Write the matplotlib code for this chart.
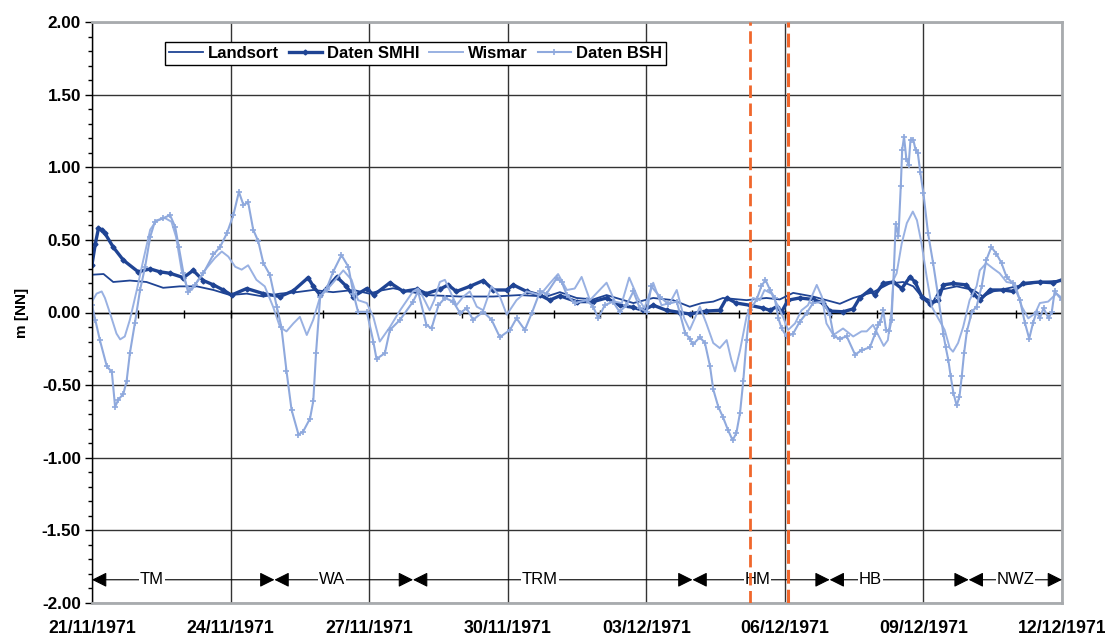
import numpy as np
import matplotlib
matplotlib.use("Agg")
import matplotlib.pyplot as plt
import matplotlib.dates as mdates
from matplotlib.ticker import MultipleLocator, FormatStrFormatter, FixedLocator

plt.rcParams['font.family'] = ['Liberation Sans', 'DejaVu Sans']
plt.rcParams['axes.unicode_minus'] = False

# time axis: days since 21/11/1971 00:00
start = np.datetime64('1971-11-21T00:00')
n_days = 21

# Landsort (model)
landsort_t = [0, 0.25, 0.46, 0.82, 1.18, 1.54, 1.9, 2.27, 2.63, 2.99, 3.35, 3.71, 4.07, 4.43, 4.79,
              5.22, 5.66, 6.0, 6.23, 6.52, 7.24, 7.97, 8.69, 9.26, 9.84, 10.13, 10.49, 10.85, 11.14,
              11.72, 12.15, 12.58, 12.94, 13.2, 13.45, 13.66, 14.17, 14.6, 14.89, 15.18, 15.61, 16.19,
              16.48, 16.91, 17.27, 17.56, 17.78, 17.96, 18.21, 18.35, 18.72, 19.08, 19.29, 19.51,
              19.8, 20.16, 20.52, 21.0]
landsort_v = [0.26, 0.265, 0.21, 0.22, 0.21, 0.17, 0.18, 0.18, 0.155, 0.12, 0.13, 0.11, 0.13, 0.14, 0.155,
              0.14, 0.155, 0.13, 0.15, 0.167, 0.12, 0.11, 0.11, 0.12, 0.11, 0.14, 0.1, 0.09, 0.12,
              0.065, 0.1, 0.085, 0.04, 0.065, 0.075, 0.1, 0.085, 0.1, 0.09, 0.135, 0.11, 0.06,
              0.1, 0.14, 0.2, 0.21, 0.18, 0.11, 0.075, 0.155, 0.18, 0.155, 0.11, 0.145,
              0.165, 0.19, 0.21, 0.22]

# SMHI gauge data
smhi_t = [0, 0.07, 0.14, 0.21, 0.28, 0.46, 0.68, 1.0, 1.26, 1.47, 1.69, 1.98, 2.19, 2.41, 2.63, 2.84,
          3.02, 3.35, 3.71, 4.07, 4.36, 4.68, 4.79, 4.94, 5.3, 5.51, 5.66, 5.95, 6.1, 6.45, 6.74,
          7.03, 7.24, 7.53, 7.71, 7.89, 8.18, 8.47, 8.69, 8.98, 9.12, 9.41, 9.7, 9.91, 10.13, 10.49,
          10.85, 11.14, 11.42, 11.72, 11.93, 12.15, 12.44, 12.73, 12.94, 13.3, 13.59, 13.74, 13.95,
          14.24, 14.53, 14.68, 14.82, 14.93, 15.07, 15.32, 15.61, 15.83, 15.97, 16.26, 16.48, 16.62,
          16.84, 16.95, 17.13, 17.35, 17.53, 17.71, 17.82, 17.96, 18.14, 18.32, 18.43, 18.64, 18.93,
          19.08, 19.22, 19.44, 19.73, 19.94, 20.16, 20.52, 20.81, 21.0]
smhi_v = [0.33, 0.47, 0.58, 0.57, 0.545, 0.45, 0.36, 0.28, 0.30, 0.28, 0.27, 0.24, 0.29, 0.22, 0.19, 0.155,
          0.12, 0.165, 0.13, 0.11, 0.15, 0.24, 0.18, 0.12, 0.245, 0.18, 0.11, 0.165, 0.12, 0.205, 0.145,
          0.16, 0.13, 0.16, 0.19, 0.145, 0.18, 0.22, 0.155, 0.155, 0.19, 0.145, 0.12, 0.085, 0.115, 0.075,
          0.075, 0.1, 0.05, 0.035, 0.015, 0.05, 0.015, 0.0, -0.01, 0.01, 0.015, 0.1, 0.065,
          0.05, 0.03, 0.015, 0.04, 0.005, 0.085, 0.1, 0.09, 0.065, 0.01, 0.005, 0.025, 0.1,
          0.155, 0.12, 0.2, 0.21, 0.165, 0.245, 0.21, 0.11, 0.06, 0.085, 0.19, 0.2, 0.19,
          0.13, 0.085, 0.155, 0.155, 0.145, 0.2, 0.21, 0.205, 0.225]

# Wismar (model)
wismar_t = [0, 0.1, 0.21, 0.28, 0.39, 0.53, 0.61, 0.71, 0.82, 0.97, 1.11, 1.26, 1.4, 1.58, 1.72, 1.82,
            1.94, 2.05, 2.16, 2.3, 2.48, 2.66, 2.81, 2.95, 3.1, 3.24, 3.38, 3.56, 3.74, 3.92, 4.07,
            4.21, 4.36, 4.5, 4.65, 4.79, 4.94, 5.15, 5.44, 5.62, 5.76, 5.95, 6.09, 6.23, 6.45, 6.67,
            6.95, 7.06, 7.16, 7.31, 7.41, 7.53, 7.64, 7.79, 7.89, 8.04, 8.18, 8.33, 8.47, 8.65, 8.83,
            8.98, 9.19, 9.41, 9.7, 9.91, 10.09, 10.28, 10.45, 10.6, 10.78, 10.96, 11.14, 11.32, 11.47,
            11.63, 11.82, 11.96, 12.15, 12.33, 12.51, 12.66, 12.82, 12.94, 13.16, 13.3, 13.45, 13.59,
            13.74, 13.84, 13.92, 14.03, 14.17, 14.31, 14.46, 14.56, 14.71, 14.86, 14.96, 15.07, 15.22,
            15.36, 15.5, 15.69, 15.8, 15.9, 16.05, 16.26, 16.48, 16.66, 16.77, 16.91, 17.06, 17.14,
            17.23, 17.31, 17.35, 17.42, 17.53, 17.64, 17.77, 17.86, 17.96, 18.07, 18.18, 18.46, 18.57,
            18.64, 18.75, 18.86, 19.0, 19.15, 19.22, 19.36, 19.5, 19.65, 19.8, 19.98, 20.13, 20.27,
            20.42, 20.52, 20.7, 20.88, 21.0]
wismar_v = [0.075, 0.13, 0.145, 0.1, -0.005, -0.145, -0.185, -0.165, -0.05, 0.155, 0.36, 0.57, 0.635, 0.65, 0.625, 0.52,
            0.29, 0.18, 0.155, 0.225, 0.305, 0.375, 0.42, 0.385, 0.315, 0.295, 0.325, 0.225, 0.18, 0.04, -0.1,
            -0.13, -0.075, -0.03, -0.155, -0.05, 0.11, 0.18, 0.29, 0.225, 0.085, 0.065, -0.03, -0.2, -0.1, 0.015,
            0.145, 0.165, 0.11, 0.015, 0.085, 0.21, 0.225, 0.12, 0.05, 0.11, 0.145, 0.04, 0.015, 0.18, 0.11,
            -0.015, 0.085, 0.145, 0.12, 0.2, 0.265, 0.155, 0.165, 0.245, 0.085, 0.145, 0.205, 0.075, 0.065,
            0.24, 0.1, 0.03, 0.205, 0.05, 0.065, 0.155, -0.04, -0.12, 0.04, -0.075, -0.21, -0.245,
            -0.19, -0.325, -0.405, -0.26, -0.03, 0.1, 0.085, 0.155, 0.13, 0.04, -0.03, -0.12, -0.075,
            0.015, 0.05, 0.19, 0.11, -0.075, -0.155, -0.11, -0.165, -0.13, -0.13, -0.085, -0.18, -0.23,
            -0.19, 0.015, 0.225, 0.27, 0.475, 0.615, 0.695, 0.635, 0.475, 0.245, 0.04, -0.12, -0.245,
            -0.27, -0.21, -0.1, 0.085, 0.18, 0.29, 0.34, 0.305, 0.27, 0.21, 0.2, 0.04, -0.04,
            -0.005, 0.065, 0.075, 0.13, 0.1]

# BSH gauge data
bsh_t = [0, 0.07, 0.17, 0.32, 0.43, 0.5, 0.57, 0.68, 0.75, 0.82, 0.93, 1.04, 1.15, 1.26, 1.36, 1.54,
         1.69, 1.8, 1.88, 1.98, 2.08, 2.23, 2.41, 2.63, 2.77, 2.92, 3.06, 3.18, 3.28, 3.38, 3.49, 3.6,
         3.71, 3.85, 4.0, 4.1, 4.21, 4.32, 4.47, 4.57, 4.72, 4.79, 4.85, 4.94, 5.08, 5.22, 5.4, 5.55,
         5.66, 5.76, 5.95, 6.09, 6.16, 6.34, 6.45, 6.67, 6.95, 7.06, 7.24, 7.35, 7.5, 7.64, 7.82, 7.97,
         8.11, 8.25, 8.47, 8.65, 8.83, 9.05, 9.19, 9.37, 9.52, 9.7, 9.84, 10.06, 10.17, 10.28, 10.45,
         10.71, 10.85, 10.96, 11.1, 11.28, 11.42, 11.57, 11.72, 11.86, 12.01, 12.11, 12.29, 12.47,
         12.66, 12.84, 12.94, 13.01, 13.16, 13.27, 13.38, 13.45, 13.56, 13.66, 13.77, 13.87, 13.95,
         14.03, 14.1, 14.17, 14.24, 14.39, 14.49, 14.58, 14.68, 14.78, 14.86, 14.93, 15.04, 15.18,
         15.32, 15.47, 15.61, 15.83, 15.97, 16.06, 16.19, 16.34, 16.52, 16.66, 16.84, 16.95, 17.02,
         17.07, 17.13, 17.19, 17.26, 17.31, 17.36, 17.4, 17.46, 17.51, 17.54, 17.58, 17.63, 17.68,
         17.72, 17.78, 17.83, 17.88, 17.93, 18.0, 18.1, 18.21, 18.32, 18.43, 18.48, 18.54, 18.59,
         18.65, 18.72, 18.78, 18.83, 18.88, 18.94, 19.05, 19.15, 19.26, 19.36, 19.47, 19.58, 19.69,
         19.8, 19.94, 20.09, 20.2, 20.29, 20.37, 20.45, 20.52, 20.6, 20.71, 20.78, 20.84, 21.0]
bsh_v = [0.05, -0.05, -0.19, -0.37, -0.41, -0.65, -0.6, -0.56, -0.47, -0.28, -0.07, 0.155, 0.315, 0.52, 0.625, 0.65,
         0.67, 0.59, 0.45, 0.27, 0.14, 0.19, 0.27, 0.40, 0.45, 0.545, 0.67, 0.83, 0.74, 0.76, 0.57, 0.49,
         0.34, 0.26, 0.04, -0.10, -0.40, -0.67, -0.84, -0.82, -0.73, -0.61, -0.28, 0.11, 0.165, 0.28, 0.395, 0.315,
         0.13, 0.005, 0.005, -0.2, -0.32, -0.28, -0.12, -0.05, 0.075, 0.145, -0.085, -0.11, 0.05, 0.1, 0.075, -0.005,
         0.03, -0.05, 0.005, -0.05, -0.17, -0.12, -0.04, -0.12, -0.005, 0.145, 0.13, 0.235, 0.21, 0.12, 0.065,
         0.085, 0.04, -0.04, 0.05, 0.075, 0.005, 0.05, 0.145, 0.03, 0.005, 0.18, 0.11, 0.06,
         0.075, -0.14, -0.18, -0.22, -0.17, -0.21, -0.37, -0.53, -0.65, -0.72, -0.81, -0.88, -0.83,
         -0.69, -0.47, -0.19, 0.015, 0.09, 0.18, 0.225, 0.155, 0.1, -0.04, -0.11, -0.165, -0.145,
         -0.065, -0.005, 0.065, 0.075, -0.015, -0.165, -0.18, -0.165, -0.29, -0.26, -0.24, -0.15, -0.085,
         -0.065, 0.015, -0.12, -0.13, -0.05, 0.29, 0.61, 0.53, 0.87, 1.12, 1.21, 1.06, 1.015,
         1.19, 1.19, 1.12, 1.095, 0.97, 0.82, 0.545, 0.34, 0.11, -0.145, -0.235, -0.33, -0.44,
         -0.555, -0.64, -0.58, -0.44, -0.28, -0.13, 0.005, 0.04, 0.18, 0.36, 0.45, 0.405, 0.34,
         0.245, 0.2, 0.085, -0.075, -0.18, -0.075, 0.005, -0.04, 0.03, -0.04, 0.005, 0.145, 0.085]

# weather regimes (Grosswetterlagen): boundaries in days and label position
phase_names = ['TM', 'WA', 'TRM', 'HM', 'HB', 'NWZ']
phase_edges = [0, 3.95, 6.95, 13.0, 15.97, 18.98, 21.0]
phase_label_at = [1.3, 5.2, 9.7, 14.4, 16.85, 20.0]
phase_level = -1.84

# marked events (orange dashed lines)
event_t = [14.24, 15.06]
event_lw = [2.0, 2.2]


def to_date(days):
    return start + np.round(np.asarray(days, dtype=float) * 1440).astype('timedelta64[m]')


dark = '#1F4494'
light = '#8FA9DD'

fig = plt.figure(figsize=(11.05, 6.39), dpi=100)
ax = fig.add_axes([92 / 1105, 36 / 639, 970 / 1105, 581 / 639])

l1, = ax.plot(to_date(landsort_t), landsort_v, color=dark, lw=1.3, label='Landsort')
l2, = ax.plot(to_date(smhi_t), smhi_v, color=dark, lw=2.4, marker='D', ms=2.5, label='Daten SMHI')
l3, = ax.plot(to_date(wismar_t), wismar_v, color='#99B1E2', lw=1.4, label='Wismar')
l4, = ax.plot(to_date(bsh_t), bsh_v, color=light, lw=1.5, marker='+', ms=4, mew=1.2, label='Daten BSH')

# axis line at zero with day ticks
ax.axhline(0, color='black', lw=1, zorder=1.8)
ax.vlines(to_date(np.arange(0, n_days + 1)), -0.035, 0.015, color='black', lw=1, zorder=1.8)

for t, w in zip(event_t, event_lw):
    ax.axvline(to_date(t), color='#F0672C', lw=w, ls=(0, (4.5, 2.0)), zorder=6)

# regime arrows
for i, name in enumerate(phase_names):
    ax.annotate('', xy=(to_date(phase_edges[i + 1]), phase_level),
                xytext=(to_date(phase_edges[i]), phase_level),
                arrowprops=dict(arrowstyle='<|-|>,head_length=0.6,head_width=0.3', color='black',
                                lw=0.8, mutation_scale=15, shrinkA=0, shrinkB=0), zorder=4)
    ax.text(to_date(phase_label_at[i]), phase_level, name, fontsize=12, ha='center', va='center',
            bbox=dict(facecolor='white', edgecolor='none', pad=0.5), zorder=5)

ax.set_ylim(-2, 2)
ax.set_xlim(to_date(0), to_date(n_days))
ax.yaxis.set_major_locator(MultipleLocator(0.5))
ax.yaxis.set_minor_locator(MultipleLocator(0.1))
ax.yaxis.set_major_formatter(FormatStrFormatter('%.2f'))
ax.xaxis.set_major_locator(FixedLocator(mdates.date2num(to_date(np.arange(0, n_days + 1, 3)))))
ax.xaxis.set_major_formatter(mdates.DateFormatter('%d/%m/%Y'))

ax.tick_params(axis='y', which='major', direction='out', length=5, width=1, pad=3,
               labelsize=12.3)
ax.tick_params(axis='y', which='minor', direction='out', length=3, width=1)
ax.tick_params(axis='x', which='both', length=0, pad=12, labelsize=12.8)
for lab in ax.get_xticklabels() + ax.get_yticklabels():
    lab.set_fontweight('bold')

ax.grid(True, which='major', color='#333333', lw=1)
ax.set_axisbelow(True)
for side in ['top', 'right', 'bottom']:
    ax.spines[side].set_color('#A8ABAE')
    ax.spines[side].set_linewidth(2)
    ax.spines[side].set_zorder(3)
ax.spines['left'].set_color('black')
ax.spines['left'].set_linewidth(1)
ax.spines['left'].set_zorder(3)

ax.set_ylabel('m [NN]', fontsize=11, fontweight='bold')
ax.yaxis.set_label_coords(-(92 - 29) / 970, 0.5)

leg = ax.legend(handles=[l1, l2, l3, l4], loc='upper left', ncol=4,
                bbox_to_anchor=((165 - 92) / 970, (603 - 42) / 581),
                frameon=True, fancybox=False, framealpha=1, edgecolor='black',
                prop={'weight': 'bold', 'size': 12}, handlelength=2.0, handletextpad=0.3,
                columnspacing=0.6, borderpad=0.25, borderaxespad=0)
leg.get_frame().set_linewidth(1)
leg.set_zorder(7)

fig.savefig('out.png', dpi=100)
